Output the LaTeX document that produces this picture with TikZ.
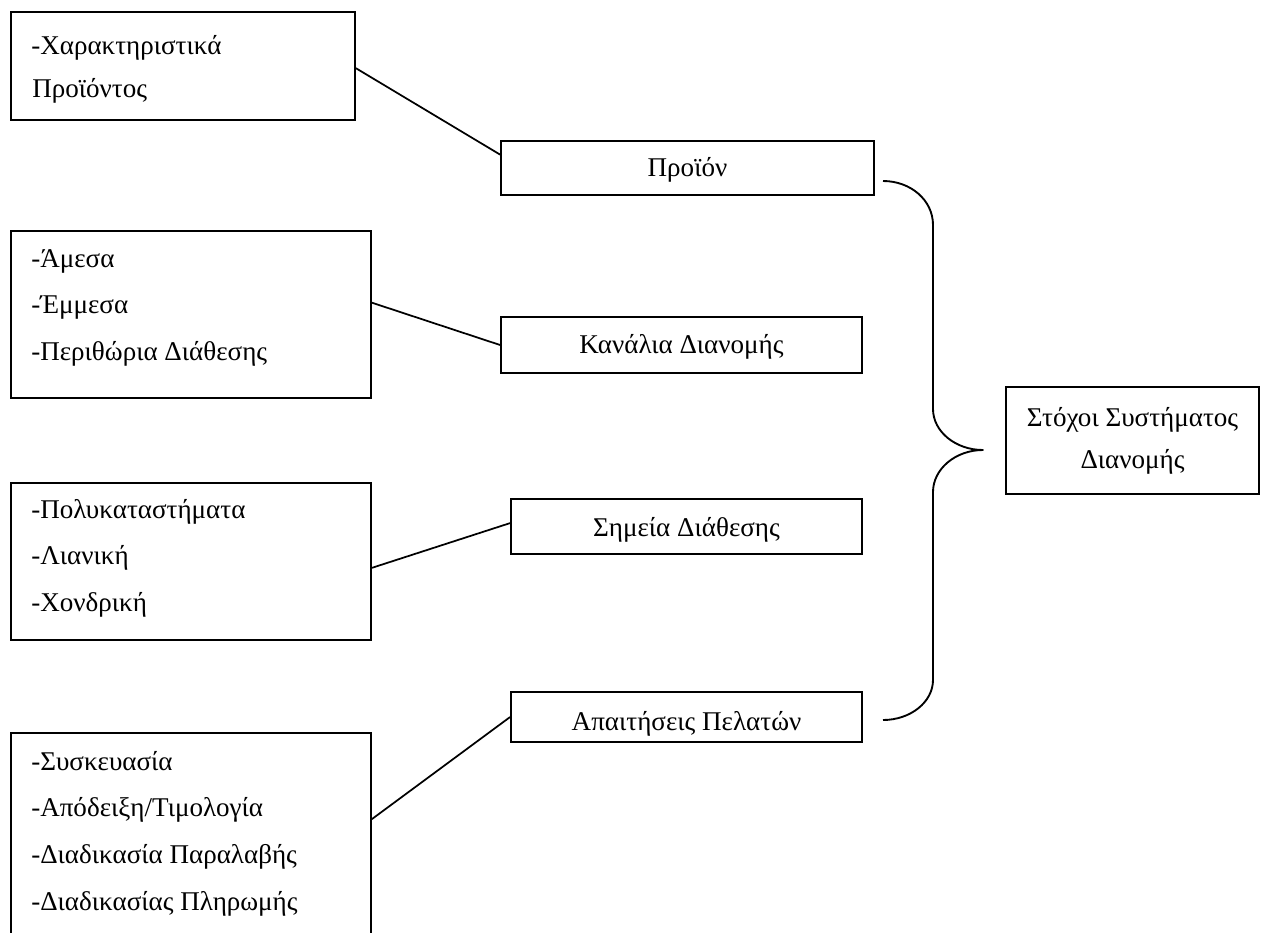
\documentclass[tikz,border=0pt]{standalone}
\usepackage{fontspec}
\setmainfont{Liberation Serif}
\usetikzlibrary{fit,calc}
\tikzset{
  box/.style={draw, line width=1.35pt, inner sep=0pt, rectangle},
  lbl/.style={inner sep=0pt, font=\fontsize{20.3}{24}\selectfont},
  llbl/.style={lbl, anchor=base west},
  clbl/.style={lbl, anchor=base},
  link/.style={line width=1.3pt},
  bracepath/.style={line width=1.4pt, line join=round},
}
\begin{document}
\begin{tikzpicture}[x=0.75pt, y=-0.75pt]
\useasboundingbox (0,0) rectangle (1263,932);
\clip (0,0) rectangle (1263,932);

% left-hand detail boxes
\node[box, fit={(11,12) (355,120)}] (f1) {};
\node[llbl] (f1a) at (31,54) {-Χαρακτηριστικά};
\node[llbl] (f1b) at (32,97) {Προϊόντος};

\node[box, fit={(11,231) (371,398)}] (f2) {};
\node[llbl] (f2a) at (31,267) {-Άμεσα};
\node[llbl] (f2b) at (31,313.5) {-Έμμεσα};
\node[llbl] (f2c) at (31,360) {-Περιθώρια Διάθεσης};

\node[box, fit={(11,483) (371,640)}] (f3) {};
\node[llbl] (f3a) at (31,518) {-Πολυκαταστήματα};
\node[llbl] (f3b) at (31,564.7) {-Λιανική};
\node[llbl] (f3c) at (31,611.4) {-Χονδρική};

\node[box, fit={(11,733) (371,960)}] (f4) {};
\node[llbl] (f4a) at (31,770) {-Συσκευασία};
\node[llbl] (f4b) at (31,816.7) {-Απόδειξη/Τιμολογία};
\node[llbl] (f4c) at (31,863.4) {-Διαδικασία Παραλαβής};
\node[llbl] (f4d) at (31,910) {-Διαδικασίας Πληρωμής};

% middle category boxes
\node[box, fit={(501,141) (874,195)}] (p1) {};
\node[clbl] (p1t) at (687.5,176) {Προϊόν};

\node[box, fit={(501,317) (862,373)}] (p2) {};
\node[clbl] (p2t) at (681.5,353) {Κανάλια Διανομής};

\node[box, fit={(511,499) (862,554)}] (p3) {};
\node[clbl] (p3t) at (686.5,536) {Σημεία Διάθεσης};

\node[box, fit={(511,692) (862,742)}] (p4) {};
\node[clbl] (p4t) at (686.5,730) {Απαιτήσεις Πελατών};

% goal box
\node[box, fit={(1006,387) (1259,494)}] (g) {};
\node[clbl] (ga) at (1132.5,426) {Στόχοι Συστήματος};
\node[clbl] (gb) at (1132.5,468) {Διανομής};

% connectors
\draw[link] ($(f1.north east)!0.52!(f1.south east)$) -- ($(p1.north west)!0.26!(p1.south west)$);
\draw[link] ($(f2.north east)!0.43!(f2.south east)$) -- (p2.west);
\draw[link] ($(f3.north east)!0.54!(f3.south east)$) -- ($(p3.north west)!0.44!(p3.south west)$);
\draw[link] ($(f4.north east)+(0,87)$) -- (p4.west);

% curly brace gathering the four categories
\coordinate (bt) at (883,181);
\coordinate (bb) at (883,720);
\coordinate (tip) at (983,450);
\draw[bracepath] (bt) .. controls (910.5,181) and (933,200) .. (933,225)
  -- (933,409) .. controls (933,431.5) and (955.5,450) .. (tip)
  .. controls (955.5,450) and (933,469) .. (933,492)
  -- (933,680) .. controls (933,702) and (910.5,720) .. (bb);
\end{tikzpicture}
\end{document}
